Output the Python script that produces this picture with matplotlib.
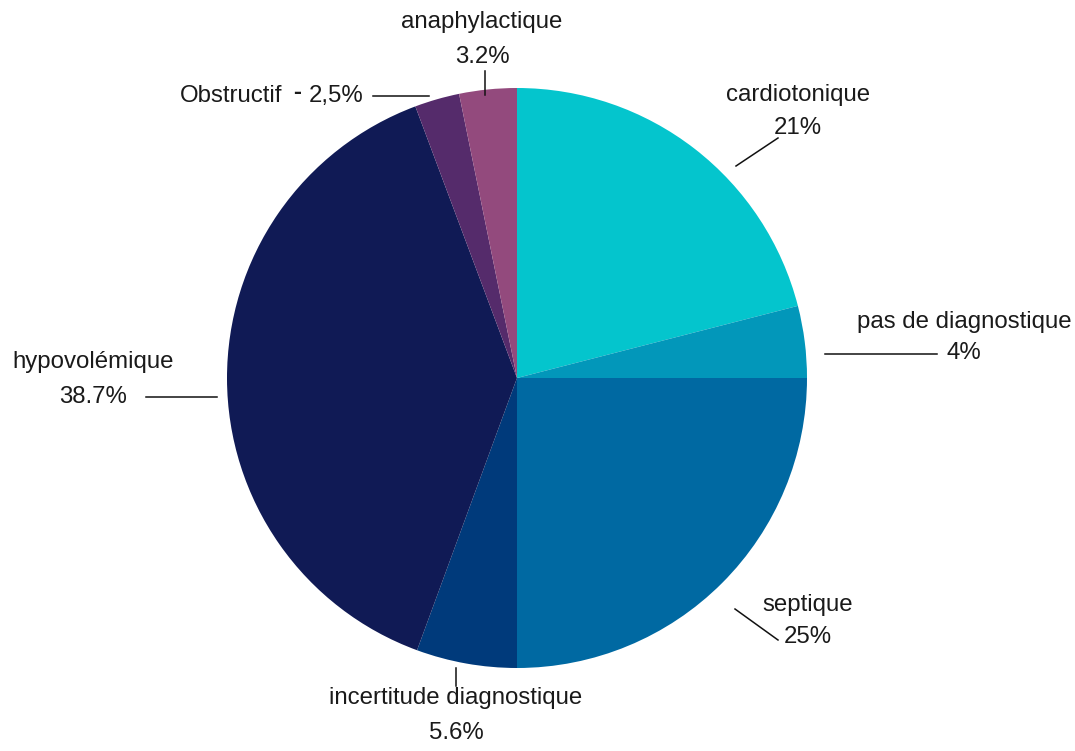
import matplotlib
matplotlib.use("Agg")
import matplotlib.pyplot as plt

# Types de choc
categories = ["cardiotonique", "pas de diagnostique", "septique", "incertitude diagnostique",
              "hypovolémique", "Obstructif", "anaphylactique"]
values = [21, 4, 25, 5.6, 38.7, 2.5, 3.2]
value_labels = ["21%", "4%", "25%", "5.6%", "38.7%", "2,5%", "3.2%"]
colors = ["#04C5CD", "#0297BA", "#0069A2", "#003A7B", "#101A55", "#552B6B", "#934A7D"]

W, H = 1075, 751
fig = plt.figure(figsize=(W / 100, H / 100), dpi=100)
ax = fig.add_axes([0, 0, 1, 1])

ax.pie(values, colors=colors, startangle=90, counterclock=False,
       center=(517, H - 378), radius=290, frame=True,
       wedgeprops=dict(linewidth=0))
ax.set_xlim(0, W)
ax.set_ylim(0, H)
ax.set_aspect("equal")
ax.axis("off")

font = dict(family=["Liberation Sans", "DejaVu Sans"], fontsize=17.3, color="#1a1a1a")

def y(p):
    return H - p

# label layout: (x, y_name, y_value, leader line)
layout = {
    "cardiotonique": (798, 95, 128, [(736, 166), (778, 138)]),
    "pas de diagnostique": (964, 322, 353, [(825, 354), (937, 354)]),
    "septique": (808, 605, 637, [(735, 609), (778, 640)]),
    "incertitude diagnostique": (456, 698, 733, [(456, 668), (456, 686)]),
    "hypovolémique": (93, 362, 397, [(146, 397), (217, 397)]),
    "anaphylactique": (482, 22, 57, [(485, 71), (485, 95)]),
}

for cat, val in zip(categories, value_labels):
    if cat == "Obstructif":
        ax.text(363, y(96), val, ha="right", va="center", **font)
        ax.text(297, y(93), "-", ha="center", va="center", fontweight="bold", **font)
        ax.text(282, y(96), "Obstructif", ha="right", va="center", **font)
        ax.plot([373, 429], [y(96), y(96)], color="#111111", lw=1.1)
        continue
    x, yn, yv, line = layout[cat]
    ax.text(x, y(yn), cat, ha="center", va="center", **font)
    ax.text(x, y(yv), val, ha="center", va="center", **font)
    (x0, y0), (x1, y1) = line
    ax.plot([x0, x1], [y(y0), y(y1)], color="#111111", lw=1.1)

fig.savefig("out.png", dpi=100, facecolor="white")
